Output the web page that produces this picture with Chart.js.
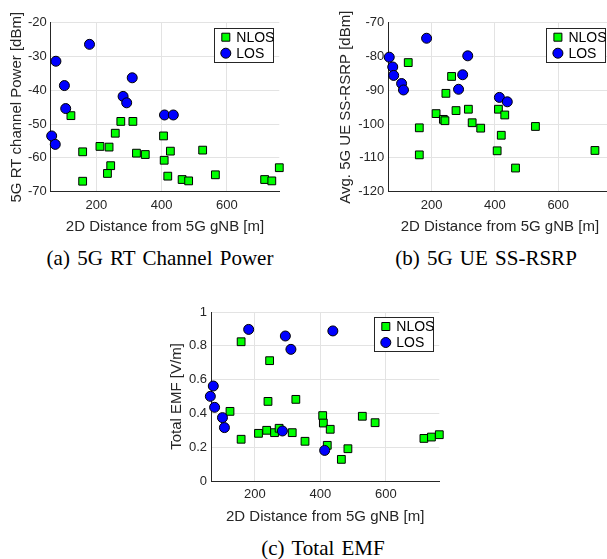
<!DOCTYPE html>
<html>
<head>
<meta charset="utf-8">
<script src="https://cdn.jsdelivr.net/npm/chart.js@4.4.1/dist/chart.umd.min.js"></script>
<style>
  html, body { margin: 0; padding: 0; background: #fff; overflow: hidden; width: 607px; height: 559px; }
  .box { position: absolute; }
  .cap { position: absolute; font-family: "Liberation Serif", "Times New Roman", serif; font-size: 21px;
         word-spacing: 2px; white-space: nowrap; transform: translate(-50%, -50%); color: #000; }
</style>
</head>
<body>
<div class="box" style="left:0px;top:0px;width:300px;height:245px"><canvas id="chartA" width="300" height="245"></canvas></div>
<div class="box" style="left:300px;top:0px;width:320px;height:245px"><canvas id="chartB" width="320" height="245"></canvas></div>
<div class="box" style="left:150px;top:290px;width:300px;height:245px"><canvas id="chartC" width="300" height="245"></canvas></div>
<div class="cap" style="left:160px;top:258px">(a) 5G RT Channel Power</div>
<div class="cap" style="left:486px;top:258px">(b) 5G UE SS-RSRP</div>
<div class="cap" style="left:323px;top:548px">(c) Total EMF</div>
<script>
// x ticks (distance, m)
const xTicks = [200, 400, 600];
const seriesNames = ["NLOS", "LOS"];

// (a) 5G RT channel power [dBm]
const aNlosX = [122, 158, 158, 211, 239, 244, 234, 258, 275, 312, 323, 350, 406, 408, 427, 419, 463, 483, 526, 565, 716, 738, 761];
const aNlosY = [-47.5, -58.2, -66.9, -56.6, -56.8, -62.3, -64.6, -52.7, -49.2, -49.2, -58.6, -59, -53.5, -60.7, -58, -65.4, -66.4, -66.8, -57.7, -65, -66.4, -66.8, -62.9];
const aLosX = [76, 179, 102, 106, 63, 74, 282, 293, 310, 409, 436];
const aLosY = [-31.4, -26.4, -38.6, -45.4, -53.5, -56, -41.8, -43.7, -36.3, -47.3, -47.3];
const aYTicks = [-70, -60, -50, -40, -30, -20];

// (b) avg. 5G UE SS-RSRP [dBm]
const bNlosX = [126, 161, 161, 214, 237, 242, 245, 263, 277, 316, 328, 355, 411, 407, 431, 420, 465, 528, 716];
const bNlosY = [-81.8, -101.1, -109.1, -96.9, -98.6, -99, -90.9, -85.9, -96, -95.6, -99.6, -101.2, -95.6, -107.9, -97.3, -103.3, -113, -100.7, -107.8];
const bLosX = [184, 66, 77, 80, 105, 111, 314, 298, 285, 414, 439];
const bLosY = [-74.6, -80.2, -83.1, -85.6, -88, -89.9, -79.8, -85.4, -89.7, -92.1, -93.4];
const bYTicks = [-120, -110, -100, -90, -80, -70];

// (c) total EMF [V/m]
const cNlosX = [124, 158, 158, 211, 236, 245, 240, 260, 274, 314, 325, 353, 407, 409, 430, 421, 464, 484, 528, 567, 716, 739, 763];
const cNlosY = [0.412, 0.824, 0.247, 0.282, 0.300, 0.712, 0.471, 0.286, 0.312, 0.286, 0.483, 0.235, 0.387, 0.343, 0.306, 0.211, 0.128, 0.191, 0.383, 0.345, 0.252, 0.26, 0.274];
const cLosX = [181, 293, 310, 438, 73, 64, 77, 101, 107, 284, 413];
const cLosY = [0.897, 0.858, 0.779, 0.888, 0.562, 0.501, 0.436, 0.375, 0.316, 0.296, 0.181];
const cYTicks = [0, 0.2, 0.4, 0.6, 0.8, 1];

Chart.defaults.font.family = "'Liberation Sans', Arial, sans-serif";
Chart.defaults.color = "#262626";

const toPts = (xs, ys) => xs.map((x, i) => ({ x: x, y: ys[i] }));

// MATLAB-style boxed legend + y title drawn without squeezing
const boxLegend = {
  id: "boxLegend",
  afterDraw(chart, args, opts) {
    const ctx = chart.ctx;
    const area = chart.chartArea;

    ctx.save();
    ctx.font = "15px 'Liberation Sans', Arial, sans-serif";
    ctx.fillStyle = "#262626";
    ctx.textAlign = "center";
    ctx.textBaseline = "middle";
    ctx.translate(area.left - opts.titleOffset, (area.top + area.bottom) / 2);
    ctx.rotate(-Math.PI / 2);
    ctx.fillText(opts.yTitle, 0, 0);
    ctx.restore();

    const w = 59, h = 34;
    const x0 = area.right - 6 - w, y0 = area.top + 5;
    ctx.save();
    ctx.fillStyle = "#fff";
    ctx.fillRect(x0, y0, w, h);
    ctx.strokeStyle = "#262626";
    ctx.lineWidth = 1;
    ctx.strokeRect(Math.round(x0) + 0.5, Math.round(y0) + 0.5, w, h);
    ctx.font = "14px 'Liberation Sans', Arial, sans-serif";
    ctx.textBaseline = "middle";
    [0, 1].forEach((di, row) => {
      const ds = chart.data.datasets[di];
      const cx = x0 + 11.5, cy = y0 + 9.5 + row * 16;
      ctx.fillStyle = ds.backgroundColor;
      ctx.strokeStyle = "#000";
      ctx.beginPath();
      if (ds.pointStyle === "rect") {
        ctx.rect(cx - 4, cy - 4, 8, 8);
      } else {
        ctx.arc(cx, cy, 5, 0, Math.PI * 2);
      }
      ctx.fill();
      ctx.stroke();
      ctx.fillStyle = "#000";
      ctx.fillText(ds.label, x0 + 22, cy + 0.5);
    });
    ctx.restore();
  }
};

function makeChart(id, nlos, los, xRange, yRange, yTicks, yTitle, titleOffset, pad, yWidth, xHeight) {
  return new Chart(document.getElementById(id), {
    type: "scatter",
    data: {
      datasets: [
        {
          label: seriesNames[0],
          data: nlos,
          pointStyle: "rect",
          pointRadius: 5.5,
          backgroundColor: "#00ff00",
          borderColor: "#000",
          borderWidth: 1,
          clip: false,
          order: 1
        },
        {
          label: seriesNames[1],
          data: los,
          pointStyle: "circle",
          pointRadius: 5,
          backgroundColor: "#0000ff",
          borderColor: "#000",
          borderWidth: 1,
          clip: false,
          order: 0
        }
      ]
    },
    options: {
      responsive: false,
      animation: false,
      layout: { padding: pad },
      plugins: {
        legend: { display: false },
        tooltip: { enabled: false },
        boxLegend: { yTitle: yTitle, titleOffset: titleOffset }
      },
      scales: {
        x: {
          type: "linear",
          min: xRange[0],
          max: xRange[1],
          afterBuildTicks: (s) => { s.ticks = xTicks.map((v) => ({ value: v })); },
          afterFit: (s) => { s.height = xHeight; },
          grid: { color: "#e3e3e3", drawTicks: false },
          border: { color: "#262626", width: 1 },
          ticks: { font: { size: 13 }, padding: 6, maxRotation: 0 },
          title: { display: true, text: "2D Distance from 5G gNB [m]", font: { size: 15 }, padding: 0 }
        },
        y: {
          type: "linear",
          min: yRange[0],
          max: yRange[1],
          afterBuildTicks: (s) => { s.ticks = yTicks.map((v) => ({ value: v })); },
          afterFit: (s) => { s.width = yWidth; },
          grid: { color: "#e3e3e3", drawTicks: false },
          border: { color: "#262626", width: 1 },
          ticks: { font: { size: 13 }, padding: 4, callback: (v) => String(+v.toFixed(2)) },
          title: { display: false }
        }
      }
    },
    plugins: [boxLegend]
  });
}

makeChart("chartA", toPts(aNlosX, aNlosY), toPts(aLosX, aLosY), [60, 761], [-70, -20], aYTicks,
  "5G RT channel Power [dBm]", 33.7, { left: 8, top: 22.7, right: 20.7, bottom: 9 }, 42.7, 44.3);
makeChart("chartB", toPts(bNlosX, bNlosY), toPts(bLosX, bLosY), [63, 768], [-120, -70], bYTicks,
  "Avg. 5G UE SS-RSRP [dBm]", 42, { left: 37.5, top: 22.7, right: 8.6, bottom: 9 }, 50.8, 44.3);
makeChart("chartC", toPts(cNlosX, cNlosY), toPts(cLosX, cLosY), [66, 763], [0, 1], cYTicks,
  "Total EMF [V/m]", 33.7, { left: 18.3, top: 22, right: 10.7, bottom: 9 }, 42.7, 45);
</script>
</body>
</html>
